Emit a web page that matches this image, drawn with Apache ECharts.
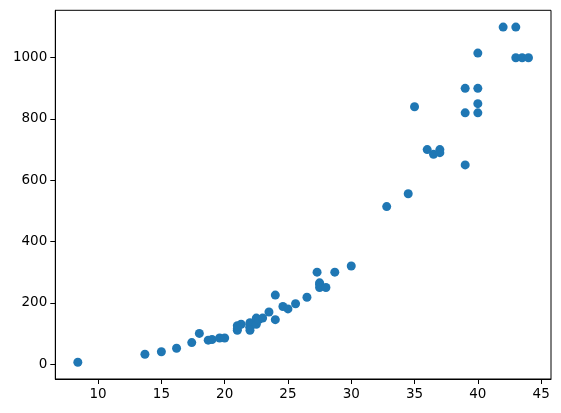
<!DOCTYPE html>
<html>
<head>
<meta charset="utf-8">
<script src="https://cdn.jsdelivr.net/npm/echarts@6/dist/echarts.min.js"></script>
<style>html,body{margin:0;padding:0;background:#fff}#c{width:561px;height:413px}</style>
</head>
<body>
<div id="c"></div>
<script>
var lengths = [8.4, 13.7, 15.0, 16.2, 17.4, 18.0, 18.7, 19.0, 19.6, 20.0, 21.0, 21.0, 21.0, 21.3, 22.0, 22.0, 22.0, 22.0, 22.0, 22.5, 22.5, 22.7, 23.0, 23.5, 24.0, 24.0, 24.6, 25.0, 25.6, 26.5, 27.3, 27.5, 27.5, 27.5, 28.0, 28.7, 30.0, 32.8, 34.5, 35.0, 36.5, 36.0, 37.0, 37.0, 39.0, 39.0, 39.0, 40.0, 40.0, 40.0, 40.0, 42.0, 43.0, 43.0, 43.5, 44.0];
var weights = [5.9, 32.0, 40.0, 51.5, 70.0, 100.0, 78.0, 80.0, 85.0, 85.0, 110.0, 115.0, 125.0, 130.0, 120.0, 120.0, 130.0, 135.0, 110.0, 130.0, 150.0, 145.0, 150.0, 170.0, 225.0, 145.0, 188.0, 180.0, 197.0, 218.0, 300.0, 260.0, 265.0, 250.0, 250.0, 300.0, 320.0, 514.0, 556.0, 840.0, 685.0, 700.0, 700.0, 690.0, 900.0, 650.0, 820.0, 850.0, 900.0, 1015.0, 820.0, 1100.0, 1000.0, 1100.0, 1000.0, 1000.0];
var xTicks = [10, 15, 20, 25, 30, 35, 40, 45];
var yTicks = [0, 200, 400, 600, 800, 1000];

var xmin = Math.min.apply(null, lengths), xmax = Math.max.apply(null, lengths);
var ymin = Math.min.apply(null, weights), ymax = Math.max.apply(null, weights);
var xm = (xmax - xmin) * 0.05, ym = (ymax - ymin) * 0.05;

var pts = lengths.map(function (v, i) { return [v, weights[i]]; });
var font = 'DejaVu Sans';
var fmt = function (v) { return String(Math.round(v)); };
var chart = echarts.init(document.getElementById('c'), null, {renderer: 'canvas'});
chart.setOption({
  animation: false,
  backgroundColor: '#fff',
  grid: {left: 55.3, right: 10, top: 10.3, bottom: 34, show: true, borderColor: '#000', borderWidth: 1, backgroundColor: 'transparent', containLabel: false},
  xAxis: {
    type: 'value', min: xmin - xm, max: xmax + xm,
    axisLine: {show: true, onZero: false, lineStyle: {color: '#000', width: 1}},
    axisTick: {show: true, length: 5, customValues: xTicks, lineStyle: {color: '#000', width: 1}},
    axisLabel: {show: true, customValues: xTicks, formatter: fmt, margin: 8, color: '#000', fontSize: 13.5, fontFamily: font},
    splitLine: {show: false}
  },
  yAxis: {
    type: 'value', min: ymin - ym, max: ymax + ym,
    axisLine: {show: true, onZero: false, lineStyle: {color: '#000', width: 1}},
    axisTick: {show: true, length: 5, customValues: yTicks, lineStyle: {color: '#000', width: 1}},
    axisLabel: {show: true, customValues: yTicks, formatter: fmt, margin: 8, color: '#000', fontSize: 13.5, fontFamily: font},
    splitLine: {show: false}
  },
  series: [{
    type: 'scatter', data: pts, symbolSize: 9,
    itemStyle: {color: '#1f77b4', opacity: 1}
  }]
});
</script>
</body>
</html>
